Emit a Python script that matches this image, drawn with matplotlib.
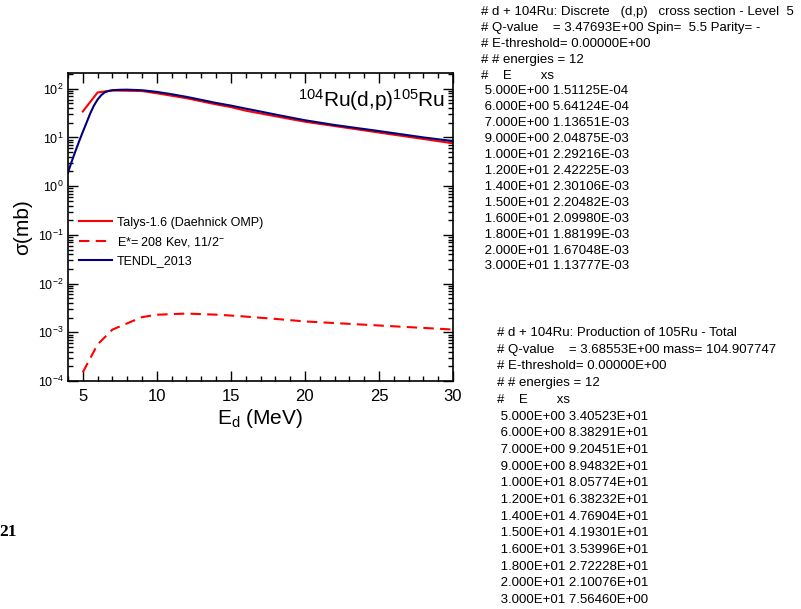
import matplotlib
matplotlib.use("Agg")
import matplotlib.pyplot as plt
import numpy as np
from matplotlib.ticker import LogLocator, MultipleLocator, NullFormatter

plt.rcParams['font.family'] = ['Liberation Sans', 'DejaVu Sans']
plt.rcParams['mathtext.fontset'] = 'custom'
plt.rcParams['mathtext.rm'] = 'Liberation Sans'
plt.rcParams['mathtext.it'] = 'Liberation Sans:italic'

# ---- data ----
energies = [5, 6, 7, 9, 10, 12, 14, 15, 16, 18, 20, 30]
talys_total = [3.40523e+01, 8.38291e+01, 9.20451e+01, 8.94832e+01, 8.05774e+01, 6.38232e+01,
               4.76904e+01, 4.19301e+01, 3.53996e+01, 2.72228e+01, 2.10076e+01, 7.56460e+00]
talys_level5 = [1.51125e-04, 5.64124e-04, 1.13651e-03, 2.04875e-03, 2.29216e-03, 2.42225e-03,
                2.30106e-03, 2.20482e-03, 2.09980e-03, 1.88199e-03, 1.67048e-03, 1.13777e-03]
tendl_E = [4.0, 4.25, 4.5, 4.75, 5.0, 5.25, 5.5, 5.75, 6.0, 6.25, 6.5, 6.75, 7.0, 7.5, 8.0,
           9.0, 10.0, 11.0, 12.0, 13.0, 14.0, 15.0, 16.0, 17.0, 18.0, 20.0, 22.0, 25.0, 28.0, 30.0]
tendl_xs = [1.9, 3.2, 5.2, 8.3, 13.0, 20.0, 31.0, 45.0, 60.0, 74.0, 85.0, 90.0, 93.0, 95.0, 95.5,
            93.0, 86.0, 77.0, 68.0, 59.0, 51.0, 45.0, 39.0, 34.0, 29.5, 22.5, 18.0, 13.5, 10.0, 8.4]

header1 = ["# d + 104Ru: Discrete   (d,p)   cross section - Level  5",
           "# Q-value    = 3.47693E+00 Spin=  5.5 Parity= -",
           "# E-threshold= 0.00000E+00",
           "# # energies = 12",
           "#    E        xs"]
header2 = ["# d + 104Ru: Production of 105Ru - Total",
           "# Q-value    = 3.68553E+00 mass= 104.907747",
           "# E-threshold= 0.00000E+00",
           "# # energies = 12",
           "#    E        xs"]

W, H = 801, 609
fig = plt.figure(figsize=(W / 100, H / 100), dpi=100)
ax = fig.add_axes([68 / W, 1 - 381 / H, (453 - 68) / W, (381 - 73) / H])

red = '#ff0000'
blue = '#00007f'
ax.plot(energies, talys_total, color=red, lw=1.5, label='Talys-1.6 (Daehnick OMP)')
ax.plot(energies, talys_level5, color=red, lw=1.5, dashes=(5, 3),
        label=r'E*= 208 Kev, 11/2$^{-}$')
ax.plot(tendl_E, tendl_xs, color=blue, lw=1.5, label='TENDL_2013')

ax.set_yscale('log')
ax.set_xlim(4, 30)
ax.set_ylim(1e-4, 2.1e2)
ax.xaxis.set_major_locator(MultipleLocator(5))
ax.xaxis.set_minor_locator(MultipleLocator(1))
ax.yaxis.set_major_locator(LogLocator(base=10, numticks=20))
ax.yaxis.set_minor_locator(LogLocator(base=10, subs=np.arange(2, 10), numticks=20))
ax.yaxis.set_minor_formatter(NullFormatter())
ax.tick_params(which='both', direction='in', top=True, right=True, width=1)
ax.tick_params(which='major', length=7)
ax.tick_params(which='minor', length=3.5)
ax.tick_params(axis='x', labelsize=12, pad=6)
ax.tick_params(axis='y', labelsize=9, pad=3)
for s in ax.spines.values():
    s.set_linewidth(1.2)

ax.set_xlabel(r'E$_{\rm d}$ (MeV)', fontsize=15, labelpad=2)
ax.set_ylabel(r'σ(mb)', fontsize=15, labelpad=4)

ax.text(0.98, 0.955, r'$^{104}$Ru(d,p)$^{105}$Ru', transform=ax.transAxes,
        ha='right', va='top', fontsize=15)

leg = ax.legend(loc='upper left', bbox_to_anchor=(0.0, 0.57), frameon=False,
                fontsize=9, handlelength=2.6, handletextpad=0.4, labelspacing=0.5)

# ---- tables on the right ----
def put_block(lines, x0, y0, dy):
    for i, t in enumerate(lines):
        fig.text(x0 / W, 1 - (y0 + i * dy) / H, t, ha='left', va='center', fontsize=9.5)

lines1 = header1 + [f" {e:.3E} {v:.5E}" for e, v in zip(energies, talys_level5)]
lines2 = header2 + [f" {e:.3E} {v:.5E}" for e, v in zip(energies, talys_total)]
put_block(lines1, 481, 12, 15.9)
put_block(lines2, 497, 333, 16.7)

fig.text(-1 / W, 1 - 532 / H, '21', family='Liberation Serif', fontweight='bold',
         fontsize=12.5, ha='left', va='center')

fig.savefig('out.png', dpi=100)
